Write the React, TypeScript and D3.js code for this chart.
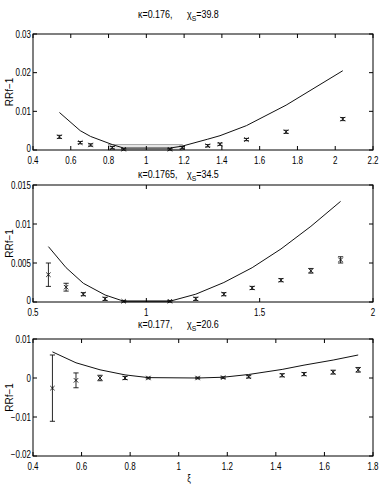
import React from "react";
import * as d3 from "d3";

// ---------- data ----------
const p1X = [0.54, 0.65, 0.705, 0.82, 0.88, 1.125, 1.19, 1.325, 1.39, 1.53, 1.74, 2.04];
const p1Y = [0.0034, 0.0019, 0.0013, 0.0006, 0.0002, 0.0002, 0.0006, 0.0011, 0.0015, 0.0027, 0.0047, 0.008];
const p1Err = [0.0004, 0.0003, 0.0003, 0.0003, 0.0002, 0.0002, 0.0003, 0.0003, 0.0003, 0.0003, 0.0004, 0.0004];
const p1Fit = [0.0097, 0.005, 0.0035, 0.0014, 0.0005, 0.0005, 0.001, 0.0028, 0.0037, 0.0063, 0.0116, 0.0205];

const p2X = [0.568, 0.646, 0.722, 0.818, 0.9, 1.104, 1.218, 1.342, 1.467, 1.594, 1.726, 1.857];
const p2Y = [0.0035, 0.0019, 0.001, 0.0004, 0.0001, 0.0001, 0.0004, 0.001, 0.0018, 0.0028, 0.004, 0.0054];
const p2Err = [0.0015, 0.0005, 0.0002, 0.0002, 0.0001, 0.0001, 0.0002, 0.0002, 0.0002, 0.0002, 0.0003, 0.0004];
const p2Fit = [0.0071, 0.0044, 0.0024, 0.0009, 0.0001, 0.0001, 0.001, 0.0025, 0.0044, 0.0068, 0.0097, 0.0129];

const p3X = [0.48, 0.577, 0.676, 0.779, 0.875, 1.078, 1.183, 1.288, 1.426, 1.516, 1.636, 1.739];
const p3Y = [-0.0026, -0.0006, 0.0, 0.0, 0.0, 0.0, 0.0001, 0.0003, 0.0007, 0.001, 0.0015, 0.0021];
const p3Err = [0.0085, 0.0019, 0.0007, 0.0004, 0.0002, 0.0002, 0.0002, 0.0003, 0.0004, 0.0004, 0.0005, 0.0006];
const p3Fit = [0.0067, 0.0039, 0.0021, 0.0008, 0.0001, 0.0, 0.0002, 0.0009, 0.0022, 0.0033, 0.0046, 0.0059];

const p1XTicks = [0.4, 0.6, 0.8, 1, 1.2, 1.4, 1.6, 1.8, 2, 2.2];
const p1YTicks = [0, 0.01, 0.02, 0.03];
const p2XTicks = [0.5, 1, 1.5, 2];
const p2YTicks = [0, 0.005, 0.01, 0.015];
const p3XTicks = [0.4, 0.6, 0.8, 1, 1.2, 1.4, 1.6, 1.8];
const p3YTicks = [-0.02, -0.01, 0, 0.01];

const titles = [
  { kappa: "κ=0.176,", chi: "39.8" },
  { kappa: "κ=0.1765,", chi: "34.5" },
  { kappa: "κ=0.177,", chi: "20.6" },
];

// gray band near zero (x0, x1, yTop)
const p1Band = [0.8, 1.19, 0.0014];
const p2Band = [0.9, 1.104, 0.0002];

const FONT = "'Liberation Sans', Arial, sans-serif";
const SX = 0.8;

function fmt(v: number) {
  if (v === 0) return "0";
  const s = String(+v.toFixed(4));
  return s.replace("-", "\u2212");
}

function NText(props: {
  x: number;
  y: number;
  anchor?: string;
  size?: number;
  sx?: number;
  children: React.ReactNode;
}) {
  return (
    <text
      transform={`translate(${props.x},${props.y}) scale(${props.sx ?? SX},1)`}
      textAnchor={props.anchor || "start"}
      fontFamily={FONT}
      fontSize={props.size ?? 10}
      fill="#000"
    >
      {props.children}
    </text>
  );
}

type PanelProps = {
  top: number;
  bottom: number;
  xDomain: [number, number];
  yDomain: [number, number];
  xTicks: number[];
  yTicks: number[];
  xs: number[];
  ys: number[];
  err: number[];
  fit: number[];
  band?: number[];
  bandFill: string;
  title: { kappa: string; chi: string };
  titleY: number;
};

const LEFT = 33;
const RIGHT = 373;

function Panel(p: PanelProps) {
  const x = d3.scaleLinear().domain(p.xDomain).range([LEFT, RIGHT]);
  const y = d3.scaleLinear().domain(p.yDomain).range([p.bottom, p.top]);
  const line = d3
    .line<number>()
    .x((_, i) => x(p.xs[i]))
    .y((d) => y(d));
  const tl = 4;
  const cap = 2.6;
  const m = 2.2;
  return (
    <g>
      <NText x={138} y={p.titleY} size={10.5} sx={0.85}>
        {p.title.kappa}
      </NText>
      <NText x={187} y={p.titleY} size={10.5} sx={0.85}>
        χ
        <tspan fontSize={8} dy={3}>S</tspan>
        <tspan dy={-3}>={p.title.chi}</tspan>
      </NText>
      {p.band && (
        <rect
          x={x(p.band[0])}
          y={y(p.band[2])}
          width={x(p.band[1]) - x(p.band[0])}
          height={y(0) - y(p.band[2])}
          fill={p.bandFill}
          stroke="#999"
          strokeWidth={0.8}
        />
      )}
      <path d={line(p.fit) || ""} fill="none" stroke="#111" strokeWidth={1} />
      {p.xs.map((xv, i) => {
        const cx = x(xv);
        const cy = y(p.ys[i]);
        const y1 = y(p.ys[i] + p.err[i]);
        const y2 = y(p.ys[i] - p.err[i]);
        return (
          <g key={i} stroke="#111" strokeWidth={0.9}>
            <line x1={cx} x2={cx} y1={y1} y2={y2} />
            <line x1={cx - cap} x2={cx + cap} y1={y1} y2={y1} />
            <line x1={cx - cap} x2={cx + cap} y1={y2} y2={y2} />
            <line x1={cx - m} x2={cx + m} y1={cy - m} y2={cy + m} />
            <line x1={cx - m} x2={cx + m} y1={cy + m} y2={cy - m} />
          </g>
        );
      })}
      <rect
        x={LEFT}
        y={p.top}
        width={RIGHT - LEFT}
        height={p.bottom - p.top}
        fill="none"
        stroke="#000"
        strokeWidth={1}
      />
      {p.xTicks.map((t, i) => (
        <g key={"xt" + i}>
          <line x1={x(t)} x2={x(t)} y1={p.bottom} y2={p.bottom - tl} stroke="#000" />
          <line x1={x(t)} x2={x(t)} y1={p.top} y2={p.top + tl} stroke="#000" />
          <NText x={x(t)} y={p.bottom + 14} anchor="middle">
            {fmt(t)}
          </NText>
        </g>
      ))}
      {p.yTicks.map((t, i) => (
        <g key={"yt" + i}>
          <line x1={LEFT} x2={LEFT + tl} y1={y(t)} y2={y(t)} stroke="#000" />
          <line x1={RIGHT} x2={RIGHT - tl} y1={y(t)} y2={y(t)} stroke="#000" />
          <NText x={LEFT - 2} y={y(t) + (t === p.yDomain[0] ? 2 : 3.5)} anchor="end">
            {fmt(t)}
          </NText>
        </g>
      ))}
      <text
        transform={`translate(13, ${(p.top + p.bottom) / 2}) rotate(-90)`}
        textAnchor="middle"
        fontFamily={FONT}
        fontSize={10}
        fill="#000"
      >
        RRf−1
      </text>
    </g>
  );
}

export default function App() {
  return (
    <svg
      width={382}
      height={491}
      style={{ position: "absolute", left: 0, top: 0, background: "#fff" }}
    >
      <rect x={0} y={0} width={382} height={491} fill="#fff" />
      <Panel
        top={34}
        bottom={150}
        xDomain={[0.4, 2.2]}
        yDomain={[0, 0.03]}
        xTicks={p1XTicks}
        yTicks={p1YTicks}
        xs={p1X}
        ys={p1Y}
        err={p1Err}
        fit={p1Fit}
        band={p1Band}
        bandFill="#e6e6e6"
        title={titles[0]}
        titleY={18}
      />
      <Panel
        top={185}
        bottom={302}
        xDomain={[0.5, 2]}
        yDomain={[0, 0.015]}
        xTicks={p2XTicks}
        yTicks={p2YTicks}
        xs={p2X}
        ys={p2Y}
        err={p2Err}
        fit={p2Fit}
        band={p2Band}
        bandFill="#aaa"
        title={titles[1]}
        titleY={178}
      />
      <Panel
        top={339}
        bottom={456}
        xDomain={[0.4, 1.8]}
        yDomain={[-0.02, 0.01]}
        xTicks={p3XTicks}
        yTicks={p3YTicks}
        xs={p3X}
        ys={p3Y}
        err={p3Err}
        fit={p3Fit}
        bandFill="#fff"
        title={titles[2]}
        titleY={328}
      />
      <NText x={189} y={482} anchor="middle">
        ξ
      </NText>
    </svg>
  );
}
